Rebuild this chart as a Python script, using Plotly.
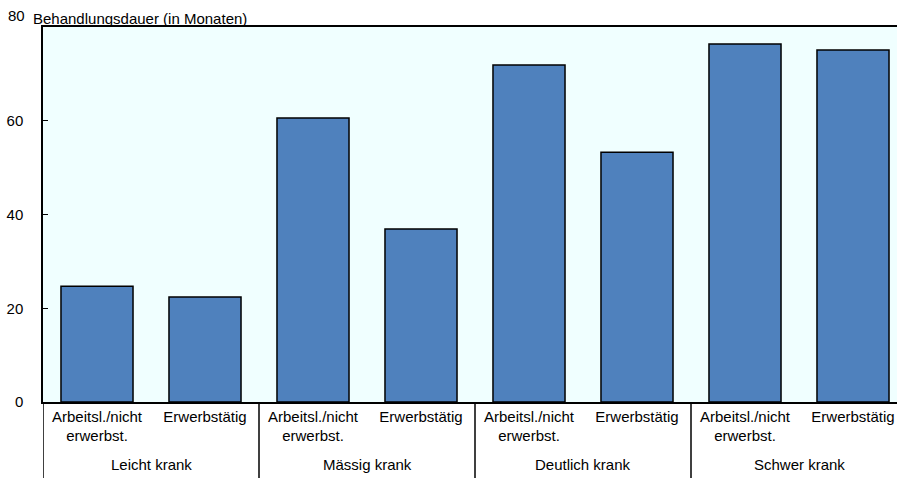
import plotly.graph_objects as go

# Daten
groups = ["Leicht krank", "Mässig krank", "Deutlich krank", "Schwer krank"]
statuses = ["Arbeitsl./nicht<br>erwerbst.", "Erwerbstätig"]
dauer = [24.7, 22.4, 60.6, 36.9, 71.9, 53.3, 76.4, 75.1]
y_ticks = [0, 20, 40, 60]

cats = [f"{g}|{s}" for g in groups for s in statuses]
labels = [s for g in groups for s in statuses]

W, H = 897, 478
ml, mt, mb = 43, 27, 76
plot_h = H - mt - mb
FONT = "Liberation Sans, Arial, sans-serif"
FS = 15

fig = go.Figure()
fig.add_trace(go.Bar(
    x=cats, y=dauer,
    marker=dict(color="#4F81BD", line=dict(color="black", width=1.5)),
    showlegend=False,
))

cat_w = 108  # px pro Kategorie
xmax = -0.5 + (W - ml) / cat_w

fig.update_layout(
    width=W, height=H,
    margin=dict(l=ml, r=0, t=mt, b=mb, autoexpand=False),
    plot_bgcolor="#F0FFFF",
    paper_bgcolor="white",
    bargap=0.333,
    font=dict(family=FONT, size=FS, color="black"),
    xaxis=dict(
        type="category", tickvals=cats, ticktext=labels, automargin=False,
        range=[-0.5, xmax], showline=True, linecolor="black", linewidth=1.5,
        mirror=True, ticks="", showgrid=False, tickfont=dict(size=FS),
    ),
    yaxis=dict(
        range=[0, 80], tickvals=y_ticks, showline=True, linecolor="black",
        linewidth=1.5, ticks="inside", ticklen=5, tickcolor="black", automargin=False,
        showgrid=False, zeroline=False, ticklabelstandoff=15,
    ),
)

# Obere Beschriftung 80 (leicht nach oben versetzt)
fig.add_annotation(x=0, xref="paper", y=80, yref="y", text="80", showarrow=False,
                   xanchor="right", yanchor="middle", xshift=-16, yshift=12,
                   font=dict(size=FS))
fig.add_annotation(x=-12 / (W - ml), xref="paper", y=1, yref="paper",
                   text="Behandlungsdauer (in Monaten)", showarrow=False,
                   xanchor="left", yanchor="bottom", yshift=-2, font=dict(size=FS))

# Gruppen-Trenner und Gruppenbeschriftungen
bottom = -mb / plot_h
for i, g in enumerate(groups):
    x0 = 2 * i - 0.5
    fig.add_shape(type="line", xref="x", yref="paper", x0=x0, x1=x0, y0=0, y1=bottom,
                  line=dict(color="black", width=1.5))
    fig.add_annotation(x=2 * i + 0.5, xref="x", y=-62 / plot_h, yref="paper",
                       text=g, showarrow=False, yanchor="middle", font=dict(size=FS))

# Seitenrand entfernen, damit die Figur genau das Fenster füllt
fig.write_html("out.html", config={"displayModeBar": False},
               post_script="document.body.style.margin='0';document.body.style.overflow='hidden';")
